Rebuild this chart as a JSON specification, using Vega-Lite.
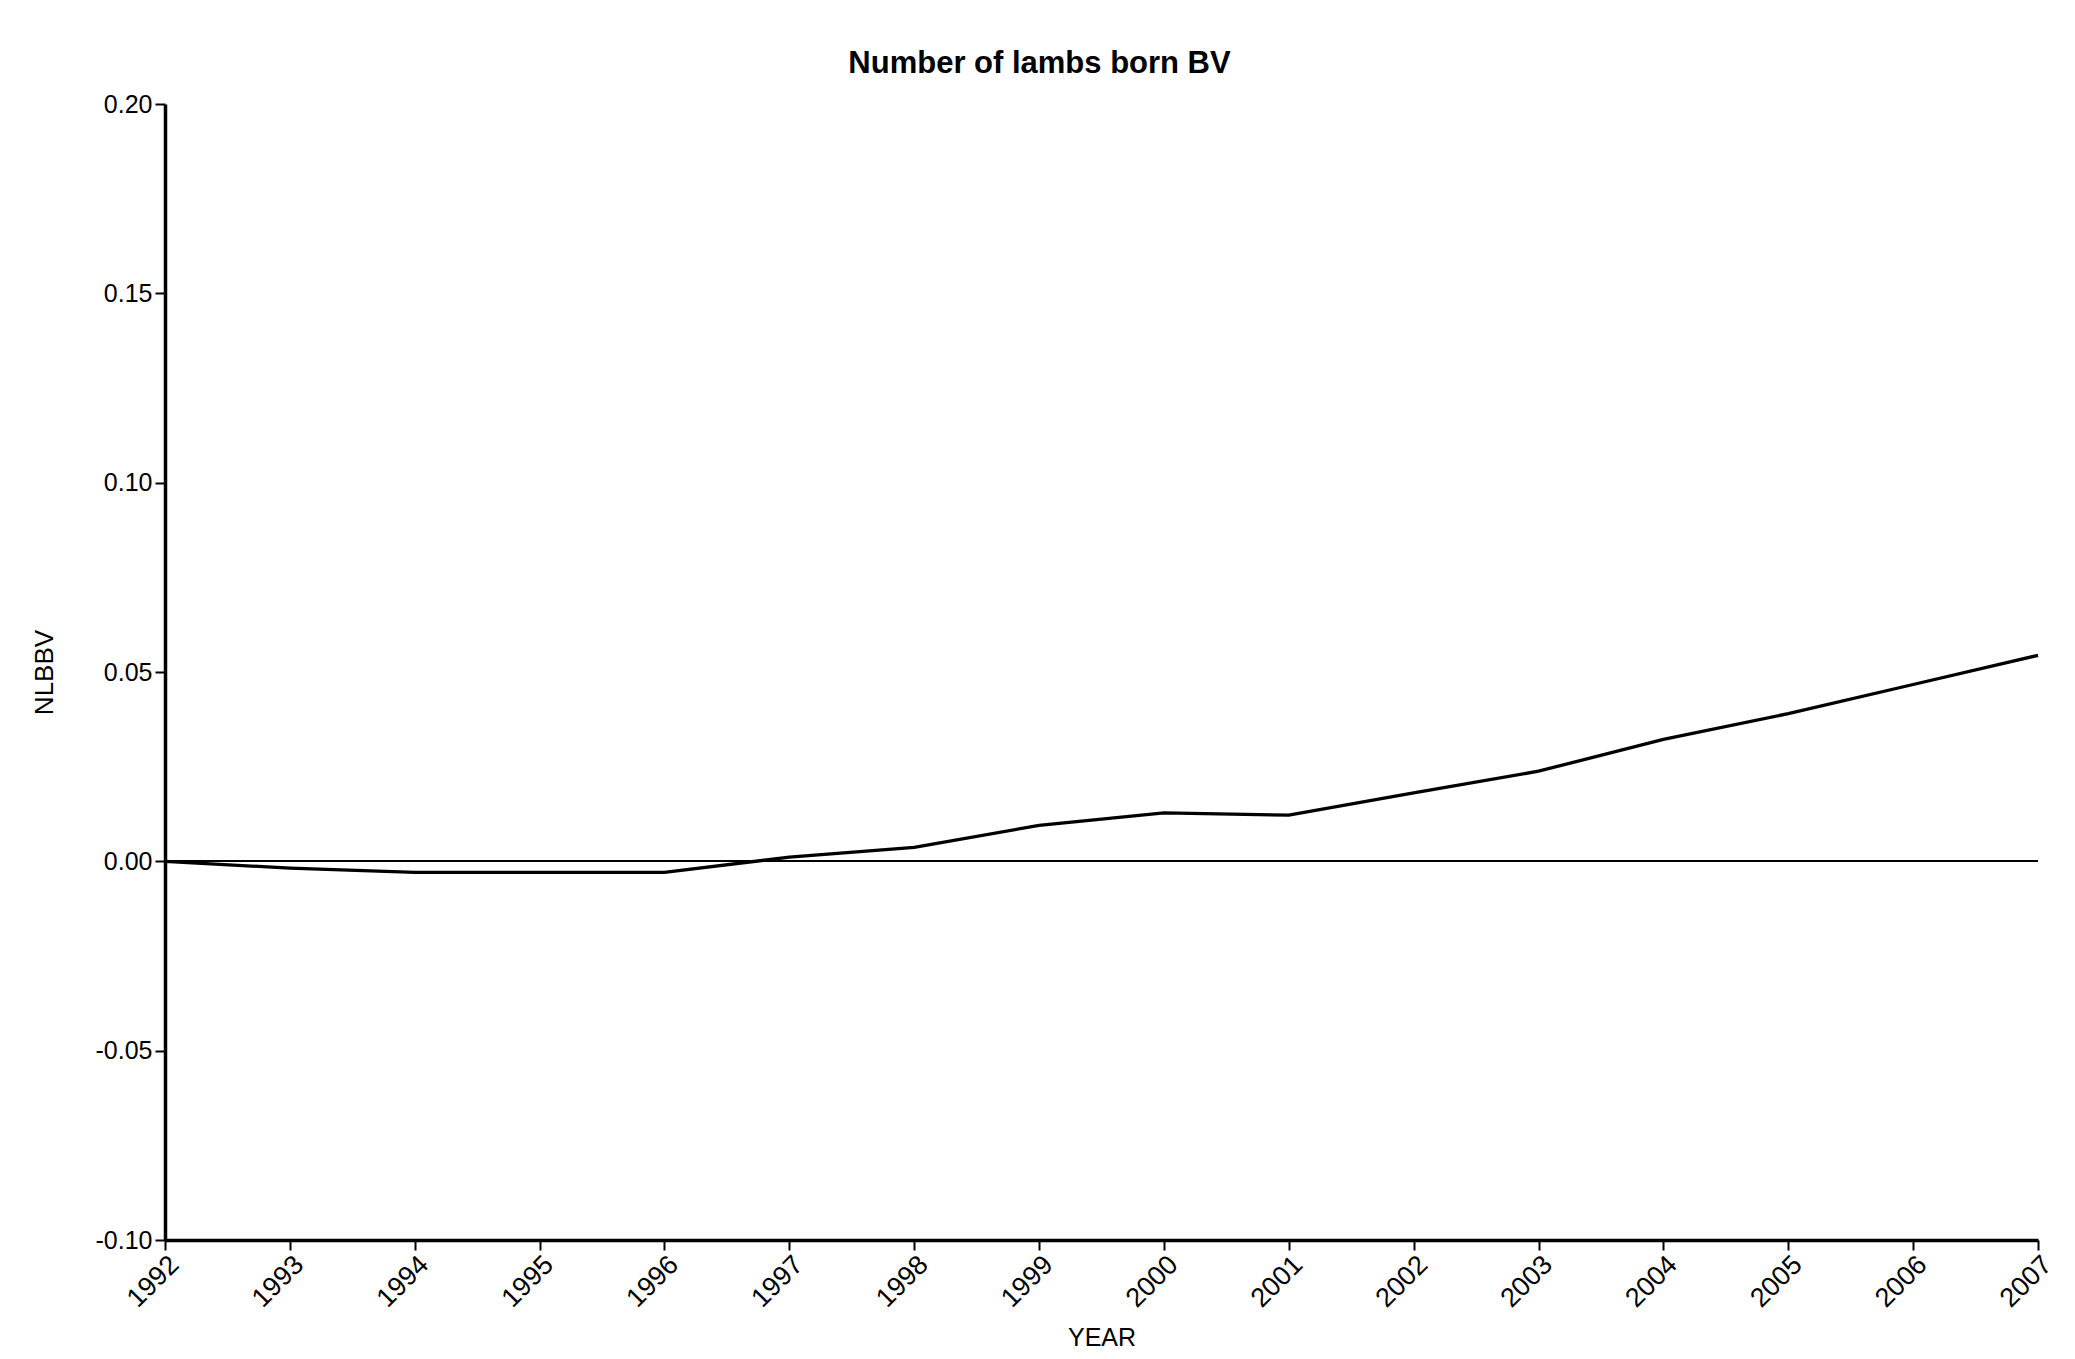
{
  "$schema": "https://vega.github.io/schema/vega-lite/v6.json",
  "width": 1873,
  "height": 1136,
  "autosize": {"type": "none"},
  "padding": {"left": 165, "top": 104, "right": 37, "bottom": 119},
  "background": "white",
  "title": {
    "text": "Number of lambs born BV",
    "font": "Liberation Sans",
    "fontSize": 31,
    "fontWeight": "bold",
    "color": "black",
    "anchor": "middle",
    "dx": -62,
    "offset": 12
  },
  "config": {
    "view": {"stroke": null},
    "axis": {
      "labelFont": "Liberation Sans",
      "titleFont": "Liberation Sans",
      "labelColor": "black",
      "titleColor": "black",
      "domainColor": "black",
      "tickColor": "black",
      "grid": false,
      "titleFontWeight": "normal"
    }
  },
  "data": {
    "values": [
      {"YEAR": 1992, "NLBBV": 0.0},
      {"YEAR": 1993, "NLBBV": -0.0018},
      {"YEAR": 1994, "NLBBV": -0.0029},
      {"YEAR": 1995, "NLBBV": -0.0029},
      {"YEAR": 1996, "NLBBV": -0.0029},
      {"YEAR": 1997, "NLBBV": 0.0011},
      {"YEAR": 1998, "NLBBV": 0.0037},
      {"YEAR": 1999, "NLBBV": 0.0095},
      {"YEAR": 2000, "NLBBV": 0.0128},
      {"YEAR": 2001, "NLBBV": 0.0122},
      {"YEAR": 2002, "NLBBV": 0.0181},
      {"YEAR": 2003, "NLBBV": 0.0238},
      {"YEAR": 2004, "NLBBV": 0.0322},
      {"YEAR": 2005, "NLBBV": 0.039},
      {"YEAR": 2006, "NLBBV": 0.0467},
      {"YEAR": 2007, "NLBBV": 0.0544}
    ]
  },
  "layer": [
    {
      "mark": {"type": "rule", "color": "black", "strokeWidth": 1.5},
      "encoding": {
        "y": {"datum": 0, "type": "quantitative"}
      }
    },
    {
      "mark": {"type": "line", "color": "black", "strokeWidth": 3.3},
      "encoding": {
        "x": {
          "field": "YEAR",
          "type": "quantitative",
          "scale": {"domain": [1992, 2007], "nice": false, "zero": false},
          "axis": {
            "title": "YEAR",
            "values": [1992, 1993, 1994, 1995, 1996, 1997, 1998, 1999, 2000, 2001, 2002, 2003, 2004, 2005, 2006, 2007],
            "format": "d",
            "labelAngle": -45,
            "labelAlign": "right",
            "labelBaseline": "top",
            "labelFontSize": 27,
            "labelPadding": 1,
            "labelOverlap": false,
            "labelFlush": false,
            "tickSize": 10,
            "tickWidth": 2,
            "domainWidth": 3.5,
            "titleFontSize": 25,
            "titlePadding": 14
          }
        },
        "y": {
          "field": "NLBBV",
          "type": "quantitative",
          "scale": {"domain": [-0.1, 0.2], "nice": false, "zero": false},
          "axis": {
            "title": "NLBBV",
            "values": [-0.1, -0.05, 0, 0.05, 0.1, 0.15, 0.2],
            "labelExpr": "replace(format(datum.value, '.2f'), '\u2212', '-')",
            "labelFontSize": 25,
            "labelPadding": 3,
            "labelFlush": false,
            "labelOverlap": false,
            "tickSize": 10,
            "tickWidth": 2,
            "domainWidth": 3.5,
            "titleFontSize": 26,
            "titlePadding": 38
          }
        }
      }
    }
  ]
}
